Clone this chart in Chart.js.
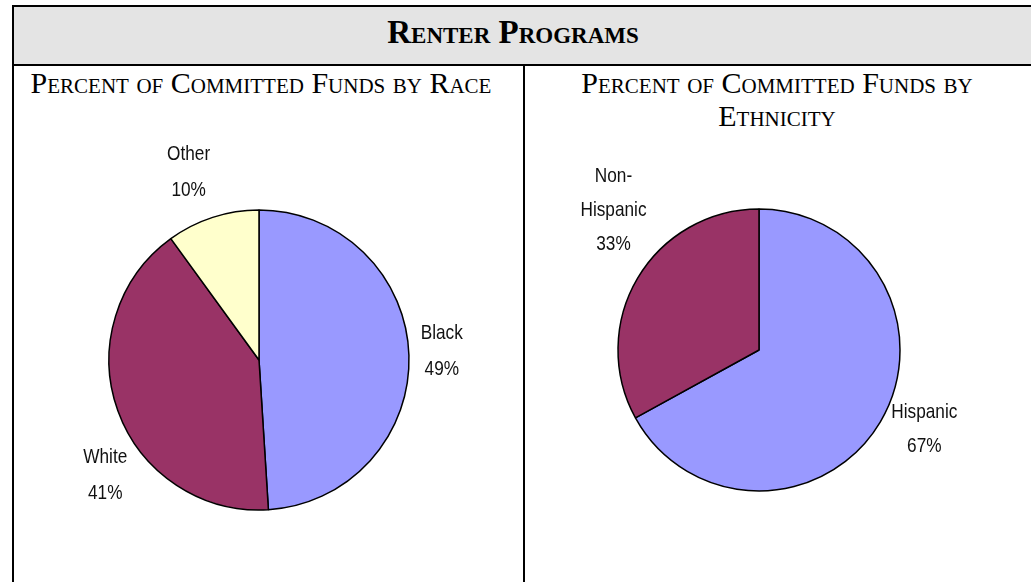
<!DOCTYPE html>
<html>
<head>
<meta charset="utf-8">
<title>Renter Programs</title>
<script src="https://cdn.jsdelivr.net/npm/chart.js@4.4.1/dist/chart.umd.min.js"></script>
<style>
  html, body { margin: 0; padding: 0; background: #fff; }
  #wrap { position: relative; width: 1031px; height: 582px; overflow: hidden; }
  .line { position: absolute; background: #000; }
  #header {
    position: absolute; left: 12px; top: 5px; width: 1040px; height: 57px;
    border: 2px solid #000; border-right: none; background: #e4e4e4;
  }
  .title {
    position: absolute; text-align: center; color: #000; white-space: nowrap;
    font-family: "Liberation Serif", "Times New Roman", serif;
    font-variant: small-caps;
  }
  #mainTitle { left: 0; width: 1026px; top: 14px; font-size: 33px; font-weight: bold; }
  #raceTitle { left: 14px; width: 494px; top: 66px; font-size: 30px; line-height: 33px; }
  #ethTitle { left: 525px; width: 504px; top: 66px; font-size: 30px; line-height: 33px; }
  canvas { position: absolute; }
</style>
</head>
<body>
<div id="wrap">
  <div id="header"></div>
  <div class="line" style="left:12px;top:5px;width:2px;height:577px"></div>
  <div class="line" style="left:523px;top:64px;width:2px;height:518px"></div>
  <div class="title" id="mainTitle">Renter Programs</div>
  <div class="title" id="raceTitle">Percent of Committed Funds by Race</div>
  <div class="title" id="ethTitle">Percent of Committed Funds by<br>Ethnicity</div>
  <canvas id="raceChart" width="509" height="516" style="left:14px;top:66px"></canvas>
  <canvas id="ethChart" width="506" height="516" style="left:525px;top:66px"></canvas>
</div>
<script>
// data
var raceLabels = ['Black', 'White', 'Other'];
var raceValues = [49, 41, 10];
var ethnicityLabels = ['Hispanic', 'Non-Hispanic'];
var ethnicityValues = [67, 33];

var raceColors = ['#9999ff', '#993366', '#ffffcc'];
var ethnicityColors = ['#9999ff', '#993366'];

// draws "Label / NN%" next to each slice, placed off the slice's mid angle
var sliceLabels = {
    id: 'sliceLabels',
    afterDatasetsDraw: function(chart, args, opts) {
        var ctx = chart.ctx;
        var meta = chart.getDatasetMeta(0);
        var values = chart.data.datasets[0].data;
        ctx.save();
        ctx.font = '21px "Liberation Sans", Arial, sans-serif';
        ctx.fillStyle = '#111';
        ctx.textAlign = 'center';
        ctx.textBaseline = 'middle';
        meta.data.forEach(function(arc, i) {
            var p = arc.getProps(['x', 'y', 'startAngle', 'endAngle', 'outerRadius'], true);
            var a = (p.startAngle + p.endAngle) / 2 + opts.turn[i] * Math.PI / 180;
            var r = p.outerRadius * opts.dist[i];
            var cx = p.x + Math.cos(a) * r;
            var cy = p.y + Math.sin(a) * r;
            var name = chart.data.labels[i];
            var lines = name.indexOf('-') > 0 ? [name.split('-')[0] + '-', name.split('-')[1]] : [name];
            lines.push(values[i] + '%');
            var top = cy - (lines.length - 1) * opts.lineHeight / 2;
            lines.forEach(function(t, j) {
                // narrow look, like Arial Narrow
                ctx.save();
                ctx.translate(cx, top + j * opts.lineHeight);
                ctx.scale(0.82, 1);
                ctx.fillText(t, 0, 0);
                ctx.restore();
            });
        });
        ctx.restore();
    }
};

function pieOptions(radius, padding, labelOpts) {
    return {
        responsive: false,
        animation: false,
        radius: radius,
        layout: { padding: padding },
        plugins: {
            legend: { display: false },
            tooltip: { enabled: false },
            sliceLabels: labelOpts
        }
    };
}

var raceChart = new Chart(document.getElementById('raceChart').getContext('2d'), {
    type: 'pie',
    data: {
        labels: raceLabels,
        datasets: [{
            data: raceValues,
            backgroundColor: raceColors,
            borderColor: '#000',
            borderWidth: 1.5
        }]
    },
    options: pieOptions(150, { left: 94, right: 113, top: 143, bottom: 71 },
        { turn: [-1, -17, -2.5], dist: [1.22, 1.28, 1.34], lineHeight: 36 }),
    plugins: [sliceLabels]
});

var ethChart = new Chart(document.getElementById('ethChart').getContext('2d'), {
    type: 'pie',
    data: {
        labels: ethnicityLabels,
        datasets: [{
            data: ethnicityValues,
            backgroundColor: ethnicityColors,
            borderColor: '#000',
            borderWidth: 1.5
        }]
    },
    options: pieOptions(141, { left: 92, right: 130, top: 142, bottom: 90 },
        { turn: [-5, 13.2], dist: [1.30, 1.43], lineHeight: 34 }),
    plugins: [sliceLabels]
});
</script>
</body>
</html>
